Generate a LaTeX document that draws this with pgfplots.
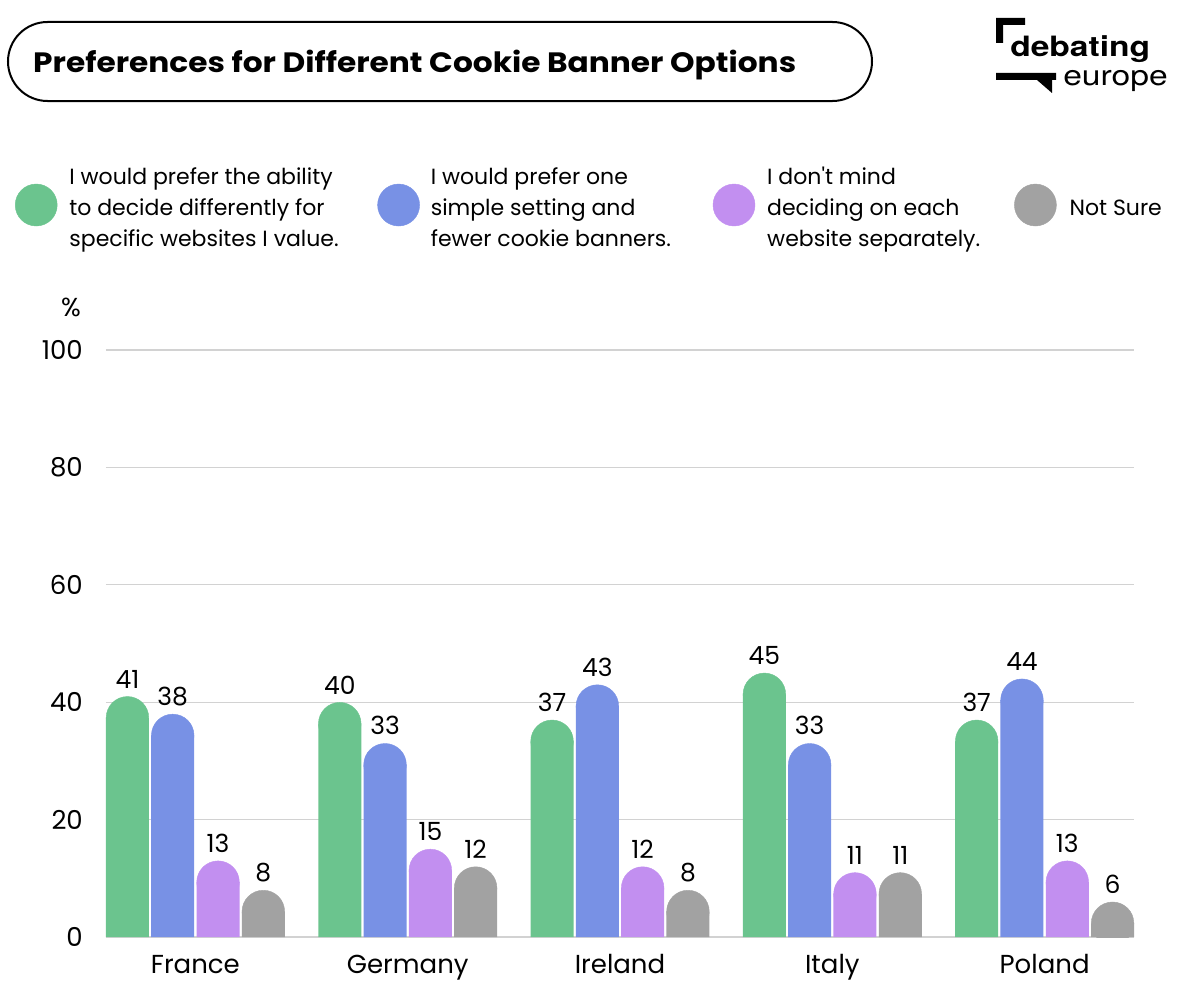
\documentclass[border=0pt]{standalone}
\usepackage{fontspec}
\setmainfont{Poppins}
\newfontfamily\logofont{TeX Gyre Heros}
\usepackage{pgfplots}
\usepackage{pgfplotstable}
\pgfplotsset{compat=1.18}
\definecolor{cgreen}{HTML}{6BC48E}
\definecolor{cblue}{HTML}{7891E5}
\definecolor{cpurple}{HTML}{C28FF0}
\definecolor{cgray}{HTML}{A2A2A2}
\definecolor{cgrid}{HTML}{D2D2D2}

% categories: 0 France, 1 Germany, 2 Ireland, 3 Italy, 4 Poland
\pgfplotstableread{
idx v
0 41
1 40
2 37
3 45
4 37
}\tgreen
\pgfplotstableread{
idx v
0 38
1 33
2 43
3 33
4 44
}\tblue
\pgfplotstableread{
idx v
0 13
1 15
2 12
3 11
4 13
}\tpurple
\pgfplotstableread{
idx v
0 8
1 12
2 8
3 11
4 6
}\tgray

\begin{document}
\begin{tikzpicture}
% title pill
\draw[line width=2pt, rounded corners=39.5pt] (8pt,-22pt) rectangle (872pt,-101pt);
\node[anchor=base west, inner sep=0pt, xscale=1.115, font=\fontsize{28}{28}\selectfont\bfseries] at (33pt,-73pt) {Preferences for Different Cookie Banner Options};
% logo
\fill (996pt,-18pt) -- (1025pt,-18pt) -- (1025pt,-25pt) -- (1003pt,-25pt) -- (1003pt,-43pt) -- (996pt,-43pt) -- cycle;
\fill (996pt,-73pt) -- (1056pt,-73pt) -- (1056pt,-80pt) -- (1052pt,-80pt) -- (1052pt,-93pt) -- (1037pt,-80pt) -- (996pt,-80pt) -- cycle;
\node[anchor=base west, inner sep=0pt, xscale=1.2, font=\logofont\fontsize{28}{28}\selectfont\bfseries] at (1010pt,-57pt) {debating};
\node[anchor=base west, inner sep=0pt, xscale=1.2, font=\logofont\fontsize{28}{28}\selectfont] at (1063pt,-85pt) {europe};
% percent sign
\node[anchor=base east, inner sep=0pt, font=\fontsize{26}{26}\selectfont] at (81pt,-316pt) {\%};

\begin{axis}[
  at={(106pt,-937pt)}, anchor=south west,
  scale only axis, width=1028pt, height=587pt,
  xmin=-0.421, xmax=4.421, ymin=0, ymax=100,
  enlargelimits=false,
  axis line style={draw=none},
  tick style={draw=none},
  ytick={0,20,...,100},
  ymajorgrids, grid style={cgrid, line width=1.3pt},
  xtick={0,1,2,3,4},
  xticklabels={France,Germany,Ireland,Italy,Poland},
  xticklabel style={anchor=base, inner sep=0pt, yshift=-36pt, font=\fontsize{26}{26}\selectfont},
  yticklabel style={anchor=east, inner sep=0pt, xshift=-23pt, font=\fontsize{26}{26}\selectfont},
  /pgf/number format/assume math mode=true,
  clip marker paths=true,
  nodes near coords style={inner sep=0pt, yshift=29.5pt, text=black, font=\fontsize{25}{25}\selectfont},
  legend columns=4,
  legend cell align=left,
  legend style={draw=none, fill=none, inner sep=0pt, outer sep=0pt, column sep=0pt,
    nodes={inner sep=0pt}, at={(-0.0885,1.247)}, anchor=west, font=\fontsize{22}{31}\selectfont},
]
% green
\addplot[ybar, bar width=43pt, bar shift=0pt, fill=cgreen, draw=none, forget plot]
  table[x expr=\thisrow{idx}-0.32, y expr=\thisrow{v}-3.663] {\tgreen};
\addplot[cgreen, only marks, mark=*, mark size=21.3pt, mark options={fill=cgreen, draw=cgreen},
  nodes near coords, point meta=explicit,
  legend image code/.code={\fill[cgreen] (21pt,0pt) circle (21pt);}]
  table[x expr=\thisrow{idx}-0.32, y expr=\thisrow{v}-3.663, meta=v] {\tgreen};
\addlegendentry{\hspace*{12pt}\raisebox{32pt}{\makebox[308pt][l]{\begin{tabular}{@{}l@{}}I would prefer the ability\\to decide differently for\\specific websites I value.\end{tabular}}}}
% blue
\addplot[ybar, bar width=43pt, bar shift=0pt, fill=cblue, draw=none, forget plot]
  table[x expr=\thisrow{idx}-0.1067, y expr=\thisrow{v}-3.663] {\tblue};
\addplot[cblue, only marks, mark=*, mark size=21.3pt, mark options={fill=cblue, draw=cblue},
  nodes near coords, point meta=explicit,
  legend image code/.code={\fill[cblue] (21pt,0pt) circle (21pt);}]
  table[x expr=\thisrow{idx}-0.1067, y expr=\thisrow{v}-3.663, meta=v] {\tblue};
\addlegendentry{\hspace*{11pt}\raisebox{32pt}{\makebox[282pt][l]{\begin{tabular}{@{}l@{}}I would prefer one\\simple setting and\\fewer cookie banners.\end{tabular}}}}
% purple
\addplot[ybar, bar width=43pt, bar shift=0pt, fill=cpurple, draw=none, forget plot]
  table[x expr=\thisrow{idx}+0.1067, y expr=\thisrow{v}-3.663] {\tpurple};
\addplot[cpurple, only marks, mark=*, mark size=21.3pt, mark options={fill=cpurple, draw=cpurple},
  nodes near coords, point meta=explicit,
  legend image code/.code={\fill[cpurple] (21pt,0pt) circle (21pt);}]
  table[x expr=\thisrow{idx}+0.1067, y expr=\thisrow{v}-3.663, meta=v] {\tpurple};
\addlegendentry{\hspace*{12pt}\raisebox{32pt}{\makebox[247pt][l]{\begin{tabular}{@{}l@{}}I don\textquotesingle t mind\\deciding on each\\website separately.\end{tabular}}}}
% gray
\addplot[ybar, bar width=43pt, bar shift=0pt, fill=cgray, draw=none, forget plot]
  table[x expr=\thisrow{idx}+0.32, y expr=\thisrow{v}-3.663] {\tgray};
\addplot[cgray, only marks, mark=*, mark size=21.3pt, mark options={fill=cgray, draw=cgray},
  nodes near coords, point meta=explicit,
  legend image code/.code={\fill[cgray] (21pt,0pt) circle (21pt);}]
  table[x expr=\thisrow{idx}+0.32, y expr=\thisrow{v}-3.663, meta=v] {\tgray};
\addlegendentry{\hspace*{13pt}\begin{tabular}{@{}l@{}}Not Sure\end{tabular}}
\end{axis}
\pgfresetboundingbox
\path (0pt,0pt) rectangle (1200pt,-998pt);
\end{tikzpicture}
\end{document}
